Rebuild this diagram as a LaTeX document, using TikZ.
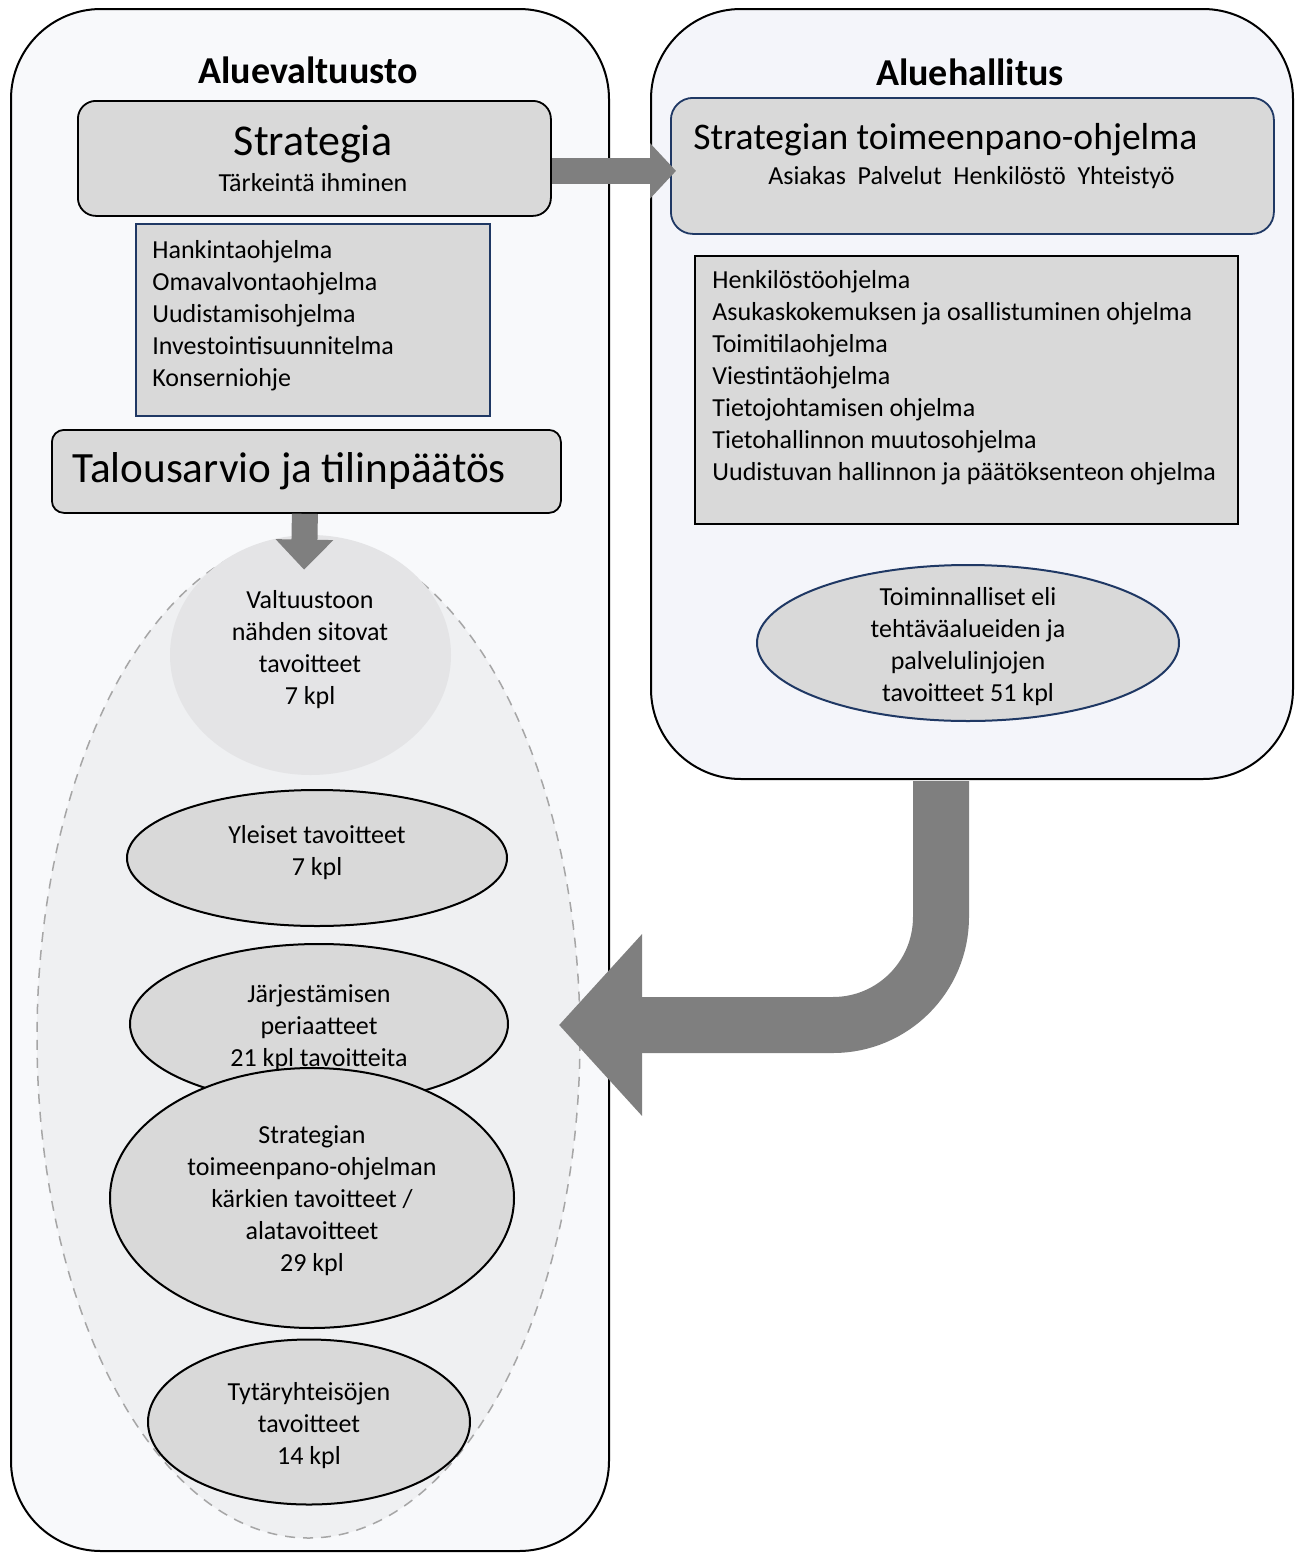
\documentclass[tikz,border=0pt]{standalone}
\usepackage{fontspec}
\setmainfont{Carlito}
\usetikzlibrary{arrows.meta,shapes.geometric,calc}
\definecolor{leftbg}{HTML}{F8F9FB}
\definecolor{rightbg}{HTML}{F4F5FA}
\definecolor{boxgray}{HTML}{D9D9D9}
\definecolor{dashfill}{HTML}{EFF0F2}
\definecolor{circfill}{HTML}{E4E4E6}
\definecolor{dashline}{HTML}{A6A6A6}
\definecolor{arrowgray}{HTML}{7F7F7F}
\definecolor{navy}{HTML}{1F3864}
\begin{document}
\begin{tikzpicture}[x=0.5pt,y=-0.5pt,
  container/.style={draw=black, line width=1pt, rounded corners=45pt, inner sep=0pt, anchor=north west},
  gbox/.style={draw=black, line width=0.9pt, fill=boxgray, inner sep=0pt, anchor=north west},
  oval/.style={ellipse, draw=black, line width=1pt, fill=boxgray, inner sep=0pt},
  txt/.style={font=\fontsize{13}{16}\selectfont, align=center, inner sep=0pt},
  ltxt/.style={font=\fontsize{13}{16}\selectfont, align=left, inner sep=0pt, anchor=west},
  title/.style={font=\fontsize{19}{23}\selectfont\bfseries, inner sep=0pt, anchor=base},
  blockarrow/.style={draw=arrowgray}
]
\useasboundingbox (0,0) rectangle (1300,1553);

% containers
\node[container, fill=leftbg, minimum width=299pt, minimum height=771pt] (av) at (10,8) {};
\node[container, fill=rightbg, minimum width=321pt, minimum height=385pt] (ah) at (650,8) {};
\node[title] (avt) at (308,83) {Aluevaltuusto};
\node[title] (aht) at (970,85) {Aluehallitus};

% left side boxes
\node[gbox, rounded corners=9pt, minimum width=236.5pt, minimum height=57.5pt] (strat) at (77,100) {};
\node[inner sep=0pt, anchor=base, font=\fontsize{22}{26}\selectfont] (stratt) at (313,155) {Strategia};
\node[inner sep=0pt, anchor=base, font=\fontsize{13}{16}\selectfont] (strats) at (313,191) {Tärkeintä ihminen};

\node[gbox, draw=navy, minimum width=177pt, minimum height=96pt] (hank) at (135,223) {};
\node[ltxt] (hankt) at (152,316) {Hankintaohjelma\\Omavalvontaohjelma\\Uudistamisohjelma\\Investointisuunnitelma\\Konserniohje};

\node[gbox, rounded corners=6pt, minimum width=254.5pt, minimum height=41.5pt] (talous) at (51,429) {};
\node[inner sep=0pt, anchor=base west, font=\fontsize{21.6}{26}\selectfont] (taloust) at (72,482) {Talousarvio ja tilinpäätös};

% dashed ellipse and content
\node[ellipse, draw=dashline, dash pattern=on 5pt off 4pt, line width=0.75pt, fill=dashfill,
      minimum width=271.5pt, minimum height=500.5pt, inner sep=0pt] (dash) at (308.5,1037.5) {};
\node[ellipse, fill=circfill, minimum width=140.5pt, minimum height=120pt, inner sep=0pt] (valt) at (310.5,655) {};
\node[txt] (valtt) at (310,650) {Valtuustoon\\nähden sitovat\\tavoitteet\\7 kpl};

\node[oval, minimum width=190pt, minimum height=68pt] (yleiset) at (317,858) {};
\node[txt] (yleisett) at (317,853) {Yleiset tavoitteet\\7 kpl};

\node[oval, minimum width=189pt, minimum height=80pt] (jarj) at (319,1024) {};
\node[txt] (jarjt) at (319,1028) {Järjestämisen\\periaatteet\\21 kpl tavoitteita};

\node[oval, minimum width=202pt, minimum height=130pt] (stoh) at (312,1198) {};
\node[txt] (stoht) at (312,1201) {Strategian\\toimeenpano-ohjelman\\kärkien tavoitteet /\\alatavoitteet\\29 kpl};

\node[oval, minimum width=161pt, minimum height=82.5pt] (tyt) at (309,1422) {};
\node[txt] (tytt) at (309,1426) {Tytäryhteisöjen\\tavoitteet\\14 kpl};

% right side
\node[gbox, draw=navy, rounded corners=11pt, minimum width=301.5pt, minimum height=68pt] (stp) at (670,97) {};
\node[inner sep=0pt, anchor=base west, font=\fontsize{18.8}{22}\selectfont] (stpt) at (693,149) {Strategian toimeenpano-ohjelma};
\node[inner sep=0pt, anchor=base, font=\fontsize{13}{16}\selectfont] (stps) at (971.5,184) {Asiakas\ \ Palvelut\ \ Henkilöstö\ \ Yhteistyö};

\node[gbox, minimum width=271.5pt, minimum height=134pt] (ohj) at (694,255) {};
\node[ltxt] (ohjt) at (712,378) {Henkilöstöohjelma\\Asukaskokemuksen ja osallistuminen ohjelma\\Toimitilaohjelma\\Viestintäohjelma\\Tietojohtamisen ohjelma\\Tietohallinnon muutosohjelma\\Uudistuvan hallinnon ja päätöksenteon ohjelma};

\node[oval, draw=navy, minimum width=211pt, minimum height=78pt] (toim) at (968,643) {};
\node[txt] (toimt) at (968,647) {Toiminnalliset eli\\tehtäväalueiden ja\\palvelulinjojen\\tavoitteet 51 kpl};

% block arrows
\draw[blockarrow, line width=13pt, -{Triangle[width=27pt,length=13pt]}]
  ($(strat.east)+(0,12.5)$) -- ($(stp.west)+(6,5)$);
\draw[blockarrow, line width=13pt, -{Triangle[width=28pt,length=15pt]}]
  ($(talous.south)+(-1.5,0)$) -- ($(valt.north)+(-6.5,35)$);
\coordinate (bigtip) at ($(jarj.east)+(50,1)$);
\draw[blockarrow, line width=28pt, rounded corners=54pt, -{Triangle[width=88.5pt,length=41.5pt]}]
  ($(ah.south)+(-31,1)$) |- (bigtip);
\end{tikzpicture}
\end{document}
